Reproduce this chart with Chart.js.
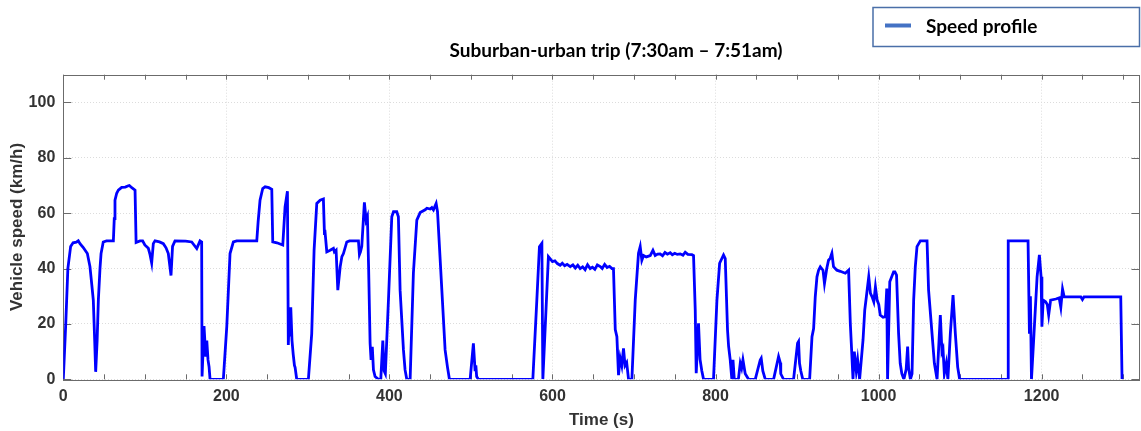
<!DOCTYPE html>
<html>
<head>
<meta charset="utf-8">
<title>Speed profile</title>
<script src="https://cdn.jsdelivr.net/npm/chart.js"></script>
<style>
  html, body { margin: 0; padding: 0; background: #fff; }
  #wrap { width: 1141px; height: 431px; position: relative; }
</style>
</head>
<body>
<div id="wrap"><canvas id="speed-chart"></canvas></div>
<script>
// logged trip: time since start (s) and vehicle speed (km/h)
const timeS = [
  0, 3, 5.6, 9, 12, 16, 18.4, 20.5, 24.5, 29.5, 32.7, 35, 36.8, 38.5, 39.7, 41.5, 43, 45, 46.3, 49,
  53, 61.4, 62.5, 63.4, 65.5, 67.5, 71.6, 76, 79.8, 81, 84, 88, 89.3, 94, 97.3, 100, 104.3, 106.4, 108.4, 110.4,
  112.5, 118, 122.7, 126, 128.8, 132.1, 134, 137, 150, 157.5, 163.7, 167.7, 169.7, 170.2, 172.6, 174.7, 176, 177.5, 178.8, 180,
  196.3, 200.5, 204.5, 208.6, 212.7, 237.3, 239, 241.3, 244.6, 247.5, 252, 255.7, 256.9, 262, 269.2, 272, 274.9, 276, 277.5, 278.3,
  279, 280.5, 282, 283.5, 284.3, 286.3, 300.6, 304.7, 307.6, 310.9, 315, 319, 320.3, 320.8, 323.2, 327.3, 331.3, 332.5, 334.6, 336.7,
  339.6, 341.7, 343.6, 347.7, 351, 362, 363.2, 364.5, 366.1, 369.3, 371.4, 373, 374.5, 376.3, 377.5, 379, 380.4, 382.4, 386.5, 389.4,
  391.9, 393.5, 395, 399, 402.9, 405, 409, 411, 413.1, 417.2, 419.2, 421.3, 425.4, 429.4, 433.6, 437.7, 443.8, 446, 450, 452,
  454, 457.3, 459, 464.3, 468.3, 471.2, 473.6, 499, 503, 505, 506, 507, 509, 575.9, 580.8, 584, 587, 588.2, 595, 597,
  600, 603, 606, 609.4, 612, 615, 618, 621.7, 625, 628, 631, 634, 637, 640, 643, 646.3, 649, 652, 655, 658.6,
  661, 664, 667, 670, 672.9, 674.8, 677, 679, 681, 683, 685, 687.1, 689, 691, 693.3, 697.4, 701.5, 705.5, 707.6, 709.6,
  711.7, 715, 719.9, 723.2, 726, 729, 732.1, 735, 738, 741, 744.4, 747, 750, 753, 756.7, 760, 762.8, 766, 771, 773,
  775.1, 776.3, 779.1, 781, 783.2, 785.3, 797.5, 801.7, 805, 809.8, 811.9, 814.7, 816, 818, 820, 821.4, 823, 828, 830.3, 832,
  833.6, 836.4, 840.5, 848.7, 854.8, 856, 858, 861, 871.2, 877.3, 879.4, 880, 883.4, 895.7, 900.6, 901.8, 903, 904.6, 907, 915.4,
  918.3, 920.3, 922.3, 924.4, 926.4, 928.5, 931.8, 933.6, 936.4, 938.6, 940.6, 942.7, 944.7, 948.8, 953, 959.1, 963.2, 965.3, 966.5, 968.6,
  970.2, 972.6, 974.3, 976.7, 980.9, 983, 985, 987.9, 990, 992, 994.1, 996.1, 998.2, 1000.2, 1002, 1005.5, 1008.3, 1010, 1011, 1013.7,
  1018.4, 1020, 1022, 1024.5, 1026.5, 1028.5, 1031, 1033.8, 1035.6, 1036.8, 1039, 1041, 1043, 1045, 1047.1, 1051.2, 1059.4, 1061.3, 1065.5, 1068.4,
  1071.7, 1075.7, 1077.7, 1079, 1080.6, 1083, 1085, 1088, 1091.3, 1094.1, 1097, 1099.4, 1158.8, 1159, 1183.3, 1185, 1186.2, 1187.5, 1190.6, 1194.4,
  1197.2, 1199.3, 1200.3, 1201.9, 1204.8, 1206.9, 1208.6, 1211, 1217.4, 1221.5, 1223.5, 1225.6, 1227.6, 1248, 1250, 1252, 1297, 1298.6
];
const speedKmh = [
  0, 20, 40, 48, 49.3, 49.5, 50, 49, 47.6, 45.4, 40.7, 34, 28.6, 14, 2.7, 14, 28.6, 40, 45.4, 49.6,
  50, 50, 58, 64.7, 67.2, 68.3, 69.3, 69.4, 69.9, 70, 69.2, 68.3, 49.4, 50, 50, 48.5, 47.3, 45, 42, 49,
  50, 49.6, 49, 47.5, 45.4, 37.5, 48, 50, 49.9, 49.6, 47.2, 50, 49.6, 1, 19.2, 8.2, 14, 7, 4.5, 0,
  0, 19, 45.4, 49.6, 50, 50, 57, 64.7, 68.9, 69.5, 69.2, 68.6, 49.6, 49.3, 48.5, 62.3, 67.9, 12.4, 26, 16,
  26, 14, 9, 5, 4.3, 0, 0, 16.5, 46.6, 63.5, 64.7, 65.1, 52.6, 54, 46, 46.6, 47.3, 46, 46.6, 32.2,
  40.6, 44.3, 45.4, 49.6, 50, 50, 45, 46, 48, 63.9, 57.5, 58.8, 40, 13, 7, 11.7, 3.4, 1, 0, 0,
  14, 3, 2, 30, 58.7, 60.5, 60.5, 58.7, 32.2, 10.6, 3.4, 0, 0, 38.3, 57.5, 60.2, 61.2, 61.8, 61.5, 62,
  61.2, 63.5, 60.5, 32.2, 10.6, 4.4, 0, 0, 13, 3.4, 5, 1, 0, 0, 28.6, 47.9, 49.1, 0, 44.3, 43.6,
  42.5, 42.8, 41.8, 41.2, 41.9, 41, 41.5, 40.7, 41.3, 40.2, 41.2, 40, 40.6, 39.6, 41.4, 40, 40.5, 39.7, 41.3, 40.7,
  40, 41.5, 40.4, 40.8, 40, 40, 18, 15.4, 1.5, 7.7, 5, 11.2, 5, 6, 0, 0, 28.6, 45.5, 47.9, 43,
  44.7, 44.2, 44.7, 46.6, 44.7, 45.2, 45.3, 44.6, 45.8, 45.2, 45.7, 45, 45.5, 45.1, 45.3, 44.8, 45.9, 45.1, 45, 44.7,
  25, 2.2, 20.2, 7.2, 3, 0, 0, 28.6, 41.9, 44.9, 43.6, 17.8, 12, 7, 0, 7, 0, 0, 5.8, 4,
  7, 2, 0, 0, 7, 7.6, 3, 0, 0, 8.2, 6, 2, 0, 0, 13, 13.6, 5.8, 3, 0, 0,
  15.4, 18.3, 29.8, 37, 39.4, 40.6, 39.4, 34.6, 40, 43, 43.7, 45.5, 40.7, 39.4, 39, 38.3, 39.4, 20.2, 13, 0,
  10, 3, 7, 0, 14.2, 25, 29.8, 37, 31, 29.8, 28, 33.4, 28.6, 27, 23.2, 22.4, 22.6, 32.8, 0, 35.2,
  38.8, 38.8, 37.6, 16.6, 5.8, 2, 0, 3.6, 11.8, 4, 0, 2, 28.6, 40.6, 47.9, 50, 50, 32.2, 16.6, 5.8,
  0, 23.2, 10, 11, 2, 5.8, 0, 16.6, 30.4, 16.6, 4.4, 0, 0, 50, 50, 16.5, 30, 0, 16.5, 37,
  44.9, 37, 19, 28.6, 28, 27, 23.2, 28.6, 29, 29.4, 26, 32.6, 29.8, 29.8, 28.8, 29.8, 29.8, 0
];
const xTickValues = [0, 200, 400, 600, 800, 1000, 1200];
const yTickValues = [0, 20, 40, 60, 80, 100];
const xMinorStep = 50;
const chartTitle = 'Suburban-urban trip (7:30am – 7:51am)';

const points = timeS.map((t, i) => ({ x: t, y: speedKmh[i] }));

const tickFont = { family: "'Liberation Sans', Arial, sans-serif", size: 16, weight: 'bold' };
const axisTitleFont = { family: "'Liberation Sans', Arial, sans-serif", size: 17, weight: 'bold' };

// box around the plot plus short inward tick marks on all four sides
const frameAndTicks = {
  id: 'frameAndTicks',
  beforeDatasetsDraw(chart) {
    const { ctx, chartArea: a, scales: { x, y } } = chart;
    ctx.save();
    ctx.strokeStyle = '#6b6b6b';
    ctx.lineWidth = 1;
    ctx.beginPath();
    for (let v = x.min; v <= x.max; v += xMinorStep) {
      const px = Math.round(x.getPixelForValue(v)) + 0.5;
      ctx.moveTo(px, a.bottom); ctx.lineTo(px, a.bottom - 5);
      ctx.moveTo(px, a.top); ctx.lineTo(px, a.top + 5);
    }
    yTickValues.forEach(v => {
      const py = Math.round(y.getPixelForValue(v)) + 0.5;
      ctx.moveTo(a.left, py); ctx.lineTo(a.left + 8, py);
      ctx.moveTo(a.right, py); ctx.lineTo(a.right - 8, py);
    });
    ctx.stroke();
    ctx.strokeRect(Math.round(a.left) + 0.5, Math.round(a.top) + 0.5,
      Math.round(a.right - a.left), Math.round(a.bottom - a.top));
    ctx.restore();
  }
};

// title above the plot, and the legend as a framed box in the top right corner
const headerBlock = {
  id: 'headerBlock',
  afterDraw(chart) {
    const { ctx } = chart;
    const ds = chart.data.datasets[0];
    ctx.save();
    ctx.fillStyle = '#000';
    ctx.font = "bold 19px Lato, sans-serif";
    ctx.textAlign = 'center';
    ctx.textBaseline = 'middle';
    ctx.fillText(chartTitle, 616, 51);

    const left = 873, top = 7.5, right = chart.width - 1.5, bottom = 46.5;
    ctx.strokeStyle = '#4a6fa8';
    ctx.lineWidth = 1.5;
    ctx.strokeRect(left, top, right - left, bottom - top);
    ctx.strokeStyle = '#4472c4';
    ctx.lineWidth = 4;
    ctx.beginPath();
    ctx.moveTo(885, 25.5);
    ctx.lineTo(911, 25.5);
    ctx.stroke();
    ctx.textAlign = 'left';
    ctx.fillText(ds.label, 926, 26.5);
    ctx.restore();
  }
};

new Chart(document.getElementById('speed-chart'), {
  type: 'line',
  data: {
    datasets: [{
      label: 'Speed profile',
      data: points,
      borderColor: '#0000ff',
      borderWidth: 2.8,
      pointRadius: 0,
      tension: 0,
      fill: false
    }]
  },
  options: {
    responsive: true,
    maintainAspectRatio: false,
    animation: false,
    layout: { padding: { top: 74.7, right: 1.5, bottom: 0, left: 0 } },
    plugins: {
      legend: { display: false },
      tooltip: { enabled: false },
      title: { display: false }
    },
    scales: {
      x: {
        type: 'linear',
        min: 0,
        max: 1320,
        afterBuildTicks: s => { s.ticks = xTickValues.map(v => ({ value: v })); },
        afterFit: s => { s.height = 51.7; },
        ticks: { color: '#333', font: tickFont, padding: 8, autoSkip: false, maxRotation: 0, callback: v => String(v) },
        grid: { color: '#dcdcdc', drawTicks: false },
        border: { display: false, dash: [1, 2] },
        title: { display: true, text: 'Time (s)', color: '#333', font: axisTitleFont, padding: { top: 4, bottom: 0 } }
      },
      y: {
        min: 0,
        max: 110,
        afterBuildTicks: s => { s.ticks = yTickValues.map(v => ({ value: v })); },
        afterFit: s => { s.width = 63.3; },
        ticks: { color: '#333', font: tickFont, padding: 8, callback: v => String(v) },
        grid: { color: '#dcdcdc', drawTicks: false },
        border: { display: false, dash: [1, 2] },
        title: { display: true, text: 'Vehicle speed (km/h)', color: '#333', font: axisTitleFont, padding: { top: 7, bottom: 0 } }
      }
    }
  },
  plugins: [frameAndTicks, headerBlock]
});
</script>
</body>
</html>
